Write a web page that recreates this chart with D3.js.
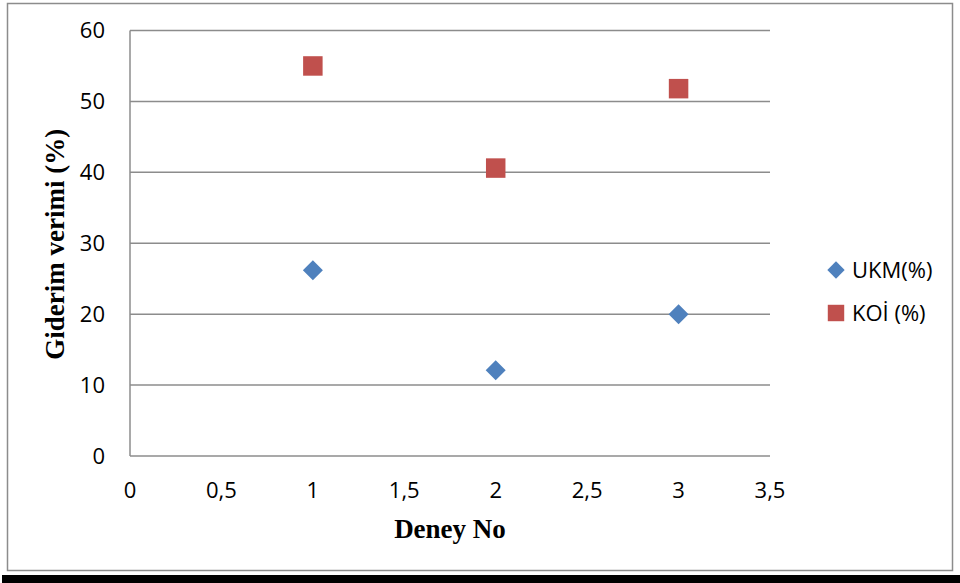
<!DOCTYPE html>
<html>
<head>
<meta charset="utf-8">
<script src="https://cdn.jsdelivr.net/npm/d3@7"></script>
<style>
  html, body { margin: 0; padding: 0; background: #fff; }
  svg { display: block; }
</style>
</head>
<body>
<div id="chart"></div>
<script>
// ------- Data
const experiments = [1, 2, 3];
const ukmValues = [26.2, 12.1, 20.0];
const koiValues = [55.0, 40.6, 51.8];
const seriesNames = ['UKM(%)', 'KOİ (%)'];
const xTicks = [0, 0.5, 1, 1.5, 2, 2.5, 3, 3.5];
const yTicks = [0, 10, 20, 30, 40, 50, 60];

const W = 960, H = 583;
const margin = { top: 30.5, right: 190, bottom: 127, left: 130 };
const tickFont = "'Open Sans', sans-serif";
const titleFont = "'Liberation Serif', 'DejaVu Serif', serif";
const blue = '#4f81bd', red = '#c0504d';

const svg = d3.select('#chart').append('svg')
  .attr('width', W).attr('height', H);

// outer chart frame + thick bottom rule
svg.append('rect')
  .attr('x', 7.5).attr('y', 3.5)
  .attr('width', 945).attr('height', 567)
  .attr('fill', '#fff').attr('stroke', '#8c8c8c').attr('stroke-width', 1.5);
svg.append('rect')
  .attr('x', 2).attr('y', 575).attr('width', 958).attr('height', 8)
  .attr('fill', '#000');

// ------- Scales
const x = d3.scaleLinear().domain([0, 3.5]).range([margin.left, W - margin.right]);
const y = d3.scaleLinear().domain([0, 60]).range([H - margin.bottom, margin.top]);

// gridlines
svg.append('g')
  .selectAll('line')
  .data(yTicks)
  .join('line')
  .attr('x1', x(0)).attr('x2', x(3.5))
  .attr('y1', d => y(d)).attr('y2', d => y(d))
  .attr('stroke', '#8c8c8c').attr('stroke-width', 1.5);

// left axis line
svg.append('line')
  .attr('x1', x(0)).attr('x2', x(0))
  .attr('y1', y(0)).attr('y2', y(60))
  .attr('stroke', '#8c8c8c').attr('stroke-width', 1.5);

// y tick labels
svg.append('g')
  .selectAll('text')
  .data(yTicks)
  .join('text')
  .attr('x', 105).attr('y', d => y(d))
  .attr('dy', '0.36em')
  .attr('text-anchor', 'end')
  .attr('font-family', tickFont).attr('font-size', 22)
  .attr('fill', '#000')
  .text(d => d);

// x tick labels
svg.append('g')
  .selectAll('text')
  .data(xTicks)
  .join('text')
  .attr('x', d => x(d)).attr('y', 498)
  .attr('text-anchor', 'middle')
  .attr('font-family', tickFont).attr('font-size', 22)
  .attr('fill', '#000')
  .text(d => String(d).replace('.', ','));

// axis titles
svg.append('text')
  .attr('x', x(1.75)).attr('y', 538)
  .attr('text-anchor', 'middle')
  .attr('font-family', titleFont).attr('font-size', 27).attr('font-weight', 700)
  .text('Deney No');

svg.append('text')
  .attr('transform', `translate(64,${y(30) + 1}) rotate(-90)`)
  .attr('text-anchor', 'middle')
  .attr('font-family', titleFont).attr('font-size', 27).attr('font-weight', 700)
  .text('Giderim verimi (%)');

// ------- Markers
const diamond = d3.symbol().type(d3.symbolSquare).size(200);
const square = d3.symbol().type(d3.symbolSquare).size(380);

svg.append('g')
  .selectAll('path')
  .data(experiments.map((e, i) => ({ e, v: ukmValues[i] })))
  .join('path')
  .attr('d', diamond)
  .attr('transform', d => `translate(${x(d.e)},${y(d.v)}) rotate(45)`)
  .attr('fill', blue);

svg.append('g')
  .selectAll('path')
  .data(experiments.map((e, i) => ({ e, v: koiValues[i] })))
  .join('path')
  .attr('d', square)
  .attr('transform', d => `translate(${x(d.e)},${y(d.v)})`)
  .attr('fill', red);

// ------- Legend
const legend = svg.append('g');
const legendY = [270, 313];
legend.append('path')
  .attr('d', d3.symbol().type(d3.symbolSquare).size(150))
  .attr('transform', `translate(836,${legendY[0]}) rotate(45)`)
  .attr('fill', blue);
legend.append('path')
  .attr('d', d3.symbol().type(d3.symbolSquare).size(270))
  .attr('transform', `translate(836,${legendY[1]})`)
  .attr('fill', red);
legend.selectAll('text')
  .data(seriesNames)
  .join('text')
  .attr('x', 852).attr('y', (d, i) => legendY[i])
  .attr('dy', '0.36em')
  .attr('font-family', tickFont).attr('font-size', 22)
  .attr('fill', '#000')
  .text(d => d);
</script>
</body>
</html>
